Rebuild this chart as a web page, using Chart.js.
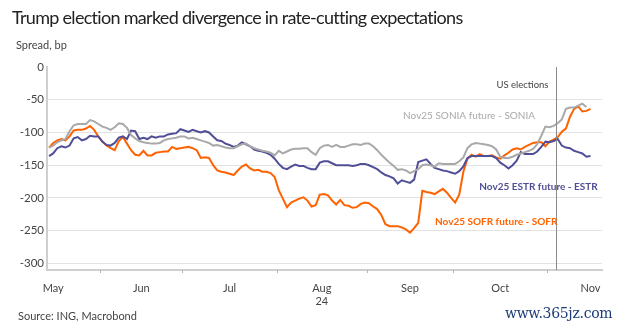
<!DOCTYPE html>
<html>
<head>
<meta charset="utf-8">
<script src="https://cdn.jsdelivr.net/npm/chart.js@4.4.1/dist/chart.umd.min.js"></script>
<style>
  body { margin: 0; background: #fff; }
  #wrap { position: relative; width: 625px; height: 329px; font-family: Lato, sans-serif; }
  #chart { position: absolute; left: 0; top: 0; }
  .txt { position: absolute; white-space: nowrap; }
  #title { left: 12px; top: 6px; font-size: 18px; letter-spacing: -0.7px; color: #222; }
  #unit { left: 16px; top: 38px; font-size: 11px; color: #444; }
  #source { left: 18px; top: 309px; font-size: 11px; color: #444; }
  #wm { left: 505px; top: 305px; font-family: "DejaVu Serif", serif; font-size: 14px; letter-spacing: -0.3px; color: #1d3c78; }
</style>
</head>
<body>
<div id="wrap">
  <canvas id="chart" width="625" height="329"></canvas>
  <div class="txt" id="title">Trump election marked divergence in rate-cutting expectations</div>
  <div class="txt" id="unit">Spread, bp</div>
  <div class="txt" id="source">Source: ING, Macrobond</div>
  <div class="txt" id="wm">www.365jz.com</div>
</div>
<script>
// ---------- DATA (business days from mid-May to mid-Nov 2024, bp) ----------
const sofrSpread = [
  -123, -116, -112, -110, -112, -106, -97, -96, -96, -94, -90, -96, -106, -114, -120, -124, -127, -113, -107, -117,
  -127, -134, -135, -128, -135, -135, -131, -130, -129, -129, -122, -125, -124, -123, -122, -124, -127, -139, -138, -139,
  -150, -158, -160, -161, -163, -165, -158, -152, -149, -155, -158, -157, -160, -160, -162, -168, -188, -201, -214, -207,
  -204, -201, -199, -204, -213, -211, -195, -194, -196, -204, -210, -203, -211, -212, -215, -214, -209, -207, -208, -213,
  -217, -226, -240, -243, -243, -243, -245, -248, -253, -246, -238, -189, -191, -192, -194, -190, -186, -192, -200, -207,
  -195, -160, -140, -134, -137, -133, -136, -136, -135, -138, -140, -135, -131, -126, -124, -126, -122, -119, -116, -115,
  -115, -121, -114, -111, -107, -99, -94, -76, -64, -60, -68, -67, -64
];
const estrSpread = [
  -136, -132, -124, -121, -123, -120, -109, -107, -112, -110, -105, -106, -106, -114, -119, -120, -116, -108, -106, -110,
  -97, -98, -110, -108, -110, -106, -108, -106, -106, -103, -102, -101, -95, -97, -99, -96, -98, -100, -98, -100,
  -106, -112, -113, -117, -119, -122, -120, -115, -118, -121, -126, -128, -129, -131, -134, -140, -148, -154, -156, -152,
  -149, -151, -151, -154, -156, -156, -146, -144, -144, -147, -150, -150, -150, -150, -151, -150, -148, -148, -150, -153,
  -156, -161, -165, -167, -170, -178, -173, -175, -177, -172, -145, -143, -141, -148, -154, -156, -158, -159, -161, -163,
  -159, -152, -139, -136, -136, -136, -136, -136, -136, -139, -146, -150, -155, -150, -143, -130, -133, -133, -133, -129,
  -122, -114, -115, -113, -110, -120, -123, -124, -128, -130, -132, -137, -136
];
const soniaSpread = [
  -123, -120, -115, -112, -110, -98, -89, -87, -87, -87, -81, -83, -87, -91, -93, -96, -92, -86, -87, -93,
  -104, -109, -113, -115, -116, -117, -117, -116, -112, -110, -109, -108, -106, -106, -109, -108, -110, -112, -114, -116,
  -120, -119, -121, -123, -124, -124, -121, -118, -117, -121, -124, -126, -128, -129, -131, -135, -128, -132, -129, -126,
  -125, -125, -124, -124, -130, -134, -124, -120, -119, -122, -119, -122, -122, -120, -118, -118, -119, -117, -117, -121,
  -127, -134, -140, -146, -151, -157, -156, -158, -162, -159, -156, -150, -149, -150, -152, -147, -148, -148, -148, -148,
  -144, -138, -124, -118, -116, -117, -118, -119, -121, -126, -137, -139, -139, -137, -134, -132, -130, -128, -125, -118,
  -105, -91, -92, -90, -86, -80, -64, -62, -62, -59, -56, -61, null
];

// month labels sit in the middle of each month, tick marks on month boundaries (business-day index)
const monthLabels = ["May", "Jun", "Jul", ["Aug", "24"], "Sep", "Oct", "Nov"];
const monthCenters = [1.5, 23, 44.5, 67, 88.5, 110.5, 132.5];
const monthBounds = [13, 33, 56, 78, 99, 122];
const yTicks = [0, -50, -100, -150, -200, -250, -300];
const electionDay = 124.1;

const colors = { sofr: "#ff6200", estr: "#4f4e96", sonia: "#a9a9a9" };

function toPoints(arr) {
  return arr.map((v, i) => ({ x: i + 0.5, y: v }));
}

// labels + election line + month tick marks
const extrasPlugin = {
  id: "extras",
  afterDatasetsDraw(chart) {
    const { ctx, chartArea, scales } = chart;
    const x = scales.x;
    const y = scales.y;
    ctx.save();

    // election line
    const ex = Math.round(x.getPixelForValue(electionDay)) + 0.5;
    ctx.strokeStyle = "#8a8a8a";
    ctx.lineWidth = 1;
    ctx.beginPath();
    ctx.moveTo(ex, chartArea.top);
    ctx.lineTo(ex, chartArea.bottom);
    ctx.stroke();

    // month tick marks
    ctx.strokeStyle = "#b5b5b5";
    monthBounds.forEach((b) => {
      const px = Math.round(x.getPixelForValue(b)) + 0.5;
      ctx.beginPath();
      ctx.moveTo(px, chartArea.bottom);
      ctx.lineTo(px, chartArea.bottom + 3);
      ctx.stroke();
    });

    ctx.textAlign = "center";
    ctx.textBaseline = "middle";

    ctx.font = "9.5px Lato";
    ctx.fillStyle = "#444";
    ctx.fillText("US elections", x.getPixelForValue(115.9), y.getPixelForValue(-27));

    ctx.font = "10px Lato";
    ctx.fillStyle = "#a9a9a9";
    ctx.fillText("Nov25 SONIA future - SONIA", x.getPixelForValue(102.9), y.getPixelForValue(-75));

    ctx.font = "bold 10px Lato";
    ctx.fillStyle = colors.estr;
    ctx.fillText("Nov25 ESTR future - ESTR", x.getPixelForValue(119.8), y.getPixelForValue(-183));

    ctx.fillStyle = colors.sofr;
    ctx.fillText("Nov25 SOFR future - SOFR", x.getPixelForValue(109.5), y.getPixelForValue(-237));

    ctx.restore();
  },
};

const chartEl = document.getElementById("chart");

const spreadChart = new Chart(chartEl, {
  type: "line",
  data: {
    datasets: [
      { label: "SONIA", data: toPoints(soniaSpread), borderColor: colors.sonia, borderWidth: 2 },
      { label: "ESTR", data: toPoints(estrSpread), borderColor: colors.estr, borderWidth: 2 },
      { label: "SOFR", data: toPoints(sofrSpread), borderColor: colors.sofr, borderWidth: 2 },
    ],
  },
  options: {
    responsive: false,
    animation: false,
    devicePixelRatio: 1,
    layout: { padding: { top: 67, right: 23, bottom: 19, left: 0 } },
    elements: { point: { radius: 0 }, line: { tension: 0 } },
    plugins: { legend: { display: false }, tooltip: { enabled: false } },
    scales: {
      x: {
        type: "linear",
        min: 0,
        max: 135.3,
        afterBuildTicks: (axis) => {
          axis.ticks = monthCenters.map((v) => ({ value: v }));
        },
        afterFit: (scale) => {
          scale.height = 40;
        },
        ticks: {
          autoSkip: false,
          maxRotation: 0,
          padding: 4,
          color: "#444",
          font: { family: "Lato", size: 11 },
          callback: (value, index) => monthLabels[index],
        },
        grid: { display: false },
        border: { display: true, color: "#cfcfcf", width: 2 },
      },
      y: {
        min: -310,
        max: 0,
        afterBuildTicks: (axis) => {
          axis.ticks = yTicks.map((v) => ({ value: v }));
        },
        afterFit: (scale) => {
          scale.width = 47;
        },
        ticks: {
          padding: 3,
          color: "#444",
          font: { family: "Lato", size: 11.5 },
        },
        grid: {
          drawTicks: false,
          color: (ctx) => (ctx.tick && ctx.tick.value === 0 ? "rgba(0,0,0,0)" : "#e2e2e2"),
        },
        border: { display: true, color: "#cfcfcf", width: 2 },
      },
    },
  },
  plugins: [extrasPlugin],
});
</script>
</body>
</html>
